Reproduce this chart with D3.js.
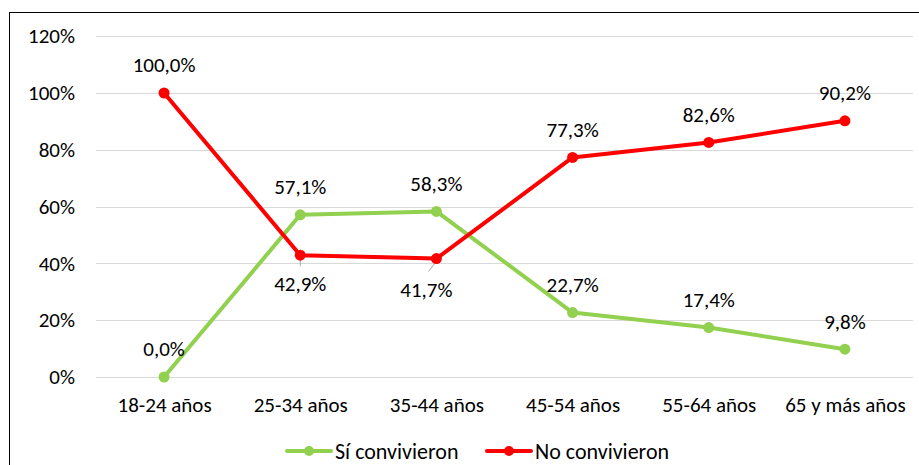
<!DOCTYPE html>
<html>
<head>
<meta charset="utf-8">
<script src="https://cdn.jsdelivr.net/npm/d3@7"></script>
<style>
  html, body { margin: 0; padding: 0; background: #fff; }
  svg { display: block; font-family: Carlito, Lato, "Open Sans", sans-serif; }
</style>
</head>
<body>
<svg id="chart" width="919" height="465"></svg>
<script>
// Age groups and share of each group that lived together / did not
const categories = ["18-24 años", "25-34 años", "35-44 años", "45-54 años", "55-64 años", "65 y más años"];
const siConvivieron = [0.0, 57.1, 58.3, 22.7, 17.4, 9.8];
const noConvivieron = [100.0, 42.9, 41.7, 77.3, 82.6, 90.2];
const yTicks = [0, 20, 40, 60, 80, 100, 120];
const seriesNames = ["Sí convivieron", "No convivieron"];
const seriesColors = ["#92D050", "#FF0000"];
// label placement per point: "above" or "below"
const siLabelPos = ["above", "above", "above", "above", "above", "above"];
const noLabelPos = ["above", "below", "below", "above", "above", "above"];

const FONT = 21;
const svg = d3.select("#chart");
const W = 919, H = 465;
const plotLeft = 96, plotRight = 913, plotTop = 36.2, plotBottom = 377;

// outer chart frame (runs past the right and bottom edges)
svg.append("rect")
  .attr("x", 9.5).attr("y", 12.5)
  .attr("width", W + 10).attr("height", H + 10)
  .attr("fill", "none").attr("stroke", "#000").attr("stroke-width", 1);

const x = d3.scalePoint().domain(categories).range([plotLeft, plotRight]).padding(0.5);
const y = d3.scaleLinear().domain([0, 120]).range([plotBottom, plotTop]);

// horizontal gridlines
svg.append("g")
  .selectAll("line")
  .data(yTicks)
  .join("line")
  .attr("x1", plotLeft).attr("x2", plotRight)
  .attr("y1", d => Math.round(y(d)) + 0.5).attr("y2", d => Math.round(y(d)) + 0.5)
  .attr("stroke", "#d9d9d9").attr("stroke-width", 1);

// y axis labels
const yAxis = d3.axisLeft(y).tickValues(yTicks).tickFormat(d => d + "%").tickSize(0).tickPadding(0);
const gy = svg.append("g").attr("transform", `translate(${75},0)`).call(yAxis);
gy.select(".domain").remove();
gy.selectAll("text").attr("font-size", FONT).attr("fill", "#000").attr("font-family", "Carlito, Lato, sans-serif");

// x axis labels
const xAxis = d3.axisBottom(x).tickSize(0).tickPadding(0);
const gx = svg.append("g").attr("transform", `translate(0,${397})`).call(xAxis);
gx.select(".domain").remove();
gx.selectAll("text").attr("font-size", FONT).attr("fill", "#000").attr("font-family", "Carlito, Lato, sans-serif");

const line = d3.line().x((d, i) => x(categories[i])).y(d => y(d));

function drawSeries(values, color, positions) {
  const g = svg.append("g");
  // leader lines for labels placed below the point
  g.selectAll("line.leader")
    .data(values.map((v, i) => ({ v, i })).filter(d => positions[d.i] === "below"))
    .join("line")
    .attr("class", "leader")
    .attr("x1", d => x(categories[d.i]) + (d.i === 2 ? -1 : 0))
    .attr("y1", d => y(d.v) + 4)
    .attr("x2", d => x(categories[d.i]) + (d.i === 2 ? -8 : 0))
    .attr("y2", d => y(d.v) + (d.i === 2 ? 13 : 11))
    .attr("stroke", "#a6a6a6").attr("stroke-width", 1);

  g.append("path")
    .attr("d", line(values))
    .attr("fill", "none").attr("stroke", color)
    .attr("stroke-width", 4).attr("stroke-linejoin", "round").attr("stroke-linecap", "round");

  g.selectAll("circle")
    .data(values)
    .join("circle")
    .attr("cx", (d, i) => x(categories[i]))
    .attr("cy", d => y(d))
    .attr("r", 5.5)
    .attr("fill", color);

  g.selectAll("text")
    .data(values)
    .join("text")
    .attr("x", (d, i) => x(categories[i]) + (positions[i] === "below" && i === 2 ? -10 : 0))
    .attr("y", (d, i) => y(d) + (positions[i] === "above" ? -28 : (i === 2 ? 31 : 28)))
    .attr("dy", "0.35em")
    .attr("text-anchor", "middle")
    .attr("font-size", FONT)
    .attr("fill", "#000")
    .text(d => d.toFixed(1).replace(".", ",") + "%");
}

drawSeries(siConvivieron, seriesColors[0], siLabelPos);
drawSeries(noConvivieron, seriesColors[1], noLabelPos);

// legend
const legendItems = [{ name: seriesNames[0], color: seriesColors[0], x0: 287 },
                     { name: seriesNames[1], color: seriesColors[1], x0: 487 }];
const lg = svg.append("g").attr("transform", "translate(0,451)");
legendItems.forEach(item => {
  lg.append("line")
    .attr("x1", item.x0).attr("x2", item.x0 + 44)
    .attr("y1", 0).attr("y2", 0)
    .attr("stroke", item.color).attr("stroke-width", 4).attr("stroke-linecap", "round");
  lg.append("circle").attr("cx", item.x0 + 22).attr("cy", 0).attr("r", 5).attr("fill", item.color);
  lg.append("text")
    .attr("x", item.x0 + 48).attr("y", 0).attr("dy", "0.35em")
    .attr("font-size", FONT + 1).attr("fill", "#000")
    .text(item.name);
});
</script>
</body>
</html>
